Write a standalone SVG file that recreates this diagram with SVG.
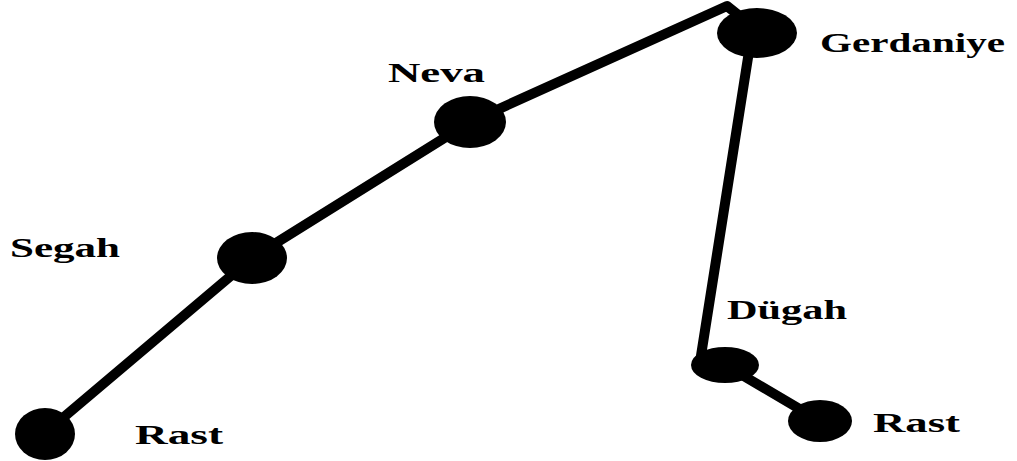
<svg xmlns="http://www.w3.org/2000/svg" width="1017" height="461" viewBox="0 0 1017 461">
<style>
.edge{stroke:#000;stroke-width:10;fill:none;stroke-linecap:round;stroke-linejoin:round}
.node{fill:#000}
.lbl{font-family:"Liberation Serif","Times New Roman",serif;font-weight:bold;font-size:28px;fill:#000}
</style>
<rect width="1017" height="461" fill="#fff"/>
<g id="connectors">
<polyline class="edge" points="45,433 252,258 470,122 727,6 757,30"/>
<polyline class="edge" points="750,45 700,362"/>
<line class="edge" x1="725" y1="365" x2="820" y2="421"/>
</g>
<g id="node-gerdaniye"><ellipse class="node" cx="757" cy="33" rx="40" ry="25"/><text class="lbl" x="820" y="52" textLength="185" lengthAdjust="spacingAndGlyphs">Gerdaniye</text></g>
<g id="node-neva"><ellipse class="node" cx="470" cy="122" rx="36" ry="26"/><text class="lbl" x="388" y="82" textLength="97" lengthAdjust="spacingAndGlyphs">Neva</text></g>
<g id="node-segah"><ellipse class="node" cx="252" cy="258" rx="35" ry="26"/><text class="lbl" x="10" y="257" textLength="110" lengthAdjust="spacingAndGlyphs">Segah</text></g>
<g id="node-rast-left"><ellipse class="node" cx="45" cy="434" rx="30" ry="26"/><text class="lbl" x="135" y="444" textLength="88" lengthAdjust="spacingAndGlyphs">Rast</text></g>
<g id="node-dugah"><ellipse class="node" cx="725" cy="365" rx="34" ry="18"/><text class="lbl" x="727" y="319" textLength="120" lengthAdjust="spacingAndGlyphs">Dügah</text></g>
<g id="node-rast-right"><ellipse class="node" cx="820" cy="421" rx="32" ry="21"/><text class="lbl" x="873" y="432" textLength="87" lengthAdjust="spacingAndGlyphs">Rast</text></g>
</svg>
